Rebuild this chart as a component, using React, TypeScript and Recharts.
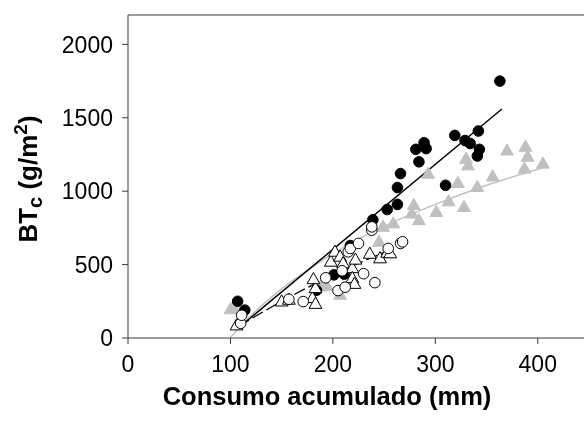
import React from 'react'
import { ComposedChart, Scatter, Line, XAxis, YAxis, ReferenceLine } from 'recharts'

// puntos: [consumo acumulado (mm), BTc (g/m2)]
const filledCircles = [
  [107, 250], [114, 190], [184, 325], [201, 430], [211, 435], [217, 630], [239, 805],
  [253, 875], [263, 910], [263, 1025], [266, 1120], [281, 1285], [284, 1200], [289, 1330],
  [291, 1290], [310, 1040], [319, 1380], [329, 1345], [334, 1325], [342, 1410], [343, 1285],
  [341, 1240], [363, 1750],
]
const grayTriangles = [
  [100, 195], [103, 205], [188, 350], [194, 355], [207, 294], [245, 655], [249, 757],
  [259, 780], [277, 847], [279, 905], [284, 802], [293, 1118], [301, 858], [313, 930],
  [322, 1055], [328, 892], [330, 1220], [332, 1175], [341, 1028], [356, 1099], [370, 1276],
  [388, 1302], [390, 1234], [387, 1153], [405, 1187],
]
const openCircles = [
  [110, 100], [111, 155], [157, 264], [171, 248], [193, 410], [205, 323], [209, 458],
  [212, 346], [215, 587], [217, 610], [225, 644], [230, 438], [238, 734], [238, 757],
  [241, 377], [254, 610], [266, 644], [268, 655],
]
const openTriangles = [
  [106, 85], [150, 248], [157, 260], [180, 271], [183, 232], [183, 339], [181, 400],
  [198, 519], [202, 587], [207, 553], [210, 508], [219, 475], [219, 407], [221, 368],
  [222, 533], [236, 573], [246, 542], [253, 580], [256, 576],
]
// curvas de ajuste
const blackFit = [[108, 70], [365, 1560]]
const dashedFit = [[108, 80], [150, 250], [200, 430], [256, 600]]
const grayFit = [
  [100, 5], [110, 80], [125, 185], [150, 335], [175, 460], [200, 575], [250, 760],
  [300, 910], [350, 1040], [405, 1160],
]
const xTicks = [0, 100, 200, 300, 400]
const yTicks = [0, 500, 1000, 1500, 2000]

const toRows = (pts: number[][]) => pts.map(([x, y]) => ({ x, y }))

const FONT = '"Liberation Sans", Arial, sans-serif'
const AXIS = '#3a3a3a'

const Dot = (p: any) => {
  if (p.cx == null) return null
  return <circle cx={p.cx} cy={p.cy} r={5.3} fill={p.fill} stroke={p.stroke} strokeWidth={1} />
}
const Tri = (p: any) => {
  if (p.cx == null) return null
  const { cx, cy } = p
  return (
    <polygon
      points={`${cx},${cy - 6.8} ${cx - 6.4},${cy + 4.4} ${cx + 6.4},${cy + 4.4}`}
      fill={p.fill}
      stroke={p.stroke}
      strokeWidth={1}
    />
  )
}

const XLabel = () => (
  <text x={319} y={397} textAnchor="middle" fontFamily={FONT} fontWeight="bold" fontSize={25.5} fill="#000">
    Consumo acumulado (mm)
  </text>
)
const YLabel = () => (
  <text
    x={0}
    y={0}
    transform="translate(29,171) rotate(-90)"
    textAnchor="middle"
    fontFamily={FONT}
    fontWeight="bold"
    fontSize={26}
    fill="#000"
  >
    BT<tspan fontSize={20} dy={5}>c</tspan>
    <tspan dy={-5}> (g/m</tspan>
    <tspan fontSize={19} dy={-10}>2</tspan>
    <tspan dy={10}>)</tspan>
  </text>
)

export default function App() {
  return (
    <div style={{ position: 'fixed', left: 8, top: 8, width: 576, height: 415, overflow: 'hidden' }}>
      <ComposedChart width={600} height={415} margin={{ top: 7, right: 19, left: 0, bottom: 0 }}>
        <XAxis
          type="number"
          dataKey="x"
          domain={[0, 450]}
          ticks={xTicks}
          height={85}
          stroke={AXIS}
          tickSize={6}
          tickMargin={12}
          tick={{ fill: '#000', fontSize: 23, fontFamily: FONT }}
          label={{ content: <XLabel /> }}
        />
        <YAxis
          type="number"
          dataKey="y"
          domain={[0, 2200]}
          ticks={yTicks}
          width={120}
          stroke={AXIS}
          tickSize={6}
          tickMargin={9}
          tick={{ fill: '#000', fontSize: 23, fontFamily: FONT }}
          label={{ content: <YLabel /> }}
        />
        <ReferenceLine y={2200} stroke={AXIS} strokeWidth={1} />
        <ReferenceLine x={450} stroke={AXIS} strokeWidth={1} />
        <Scatter data={toRows(grayTriangles)} fill="#c0c0c0" stroke="#c0c0c0" shape={Tri} isAnimationActive={false} />
        <Scatter data={toRows(filledCircles)} fill="#000" stroke="#000" shape={Dot} isAnimationActive={false} />
        <Scatter data={toRows(openTriangles)} fill="#fff" stroke="#000" shape={Tri} isAnimationActive={false} />
        <Scatter data={toRows(openCircles)} fill="#fff" stroke="#000" shape={Dot} isAnimationActive={false} />
        <Line data={toRows(grayFit)} dataKey="y" type="monotone" stroke="#c0c0c0" strokeWidth={1.5} dot={false} isAnimationActive={false} />
        <Line data={toRows(dashedFit)} dataKey="y" type="monotone" stroke="#000" strokeWidth={1.3} strokeDasharray="12 4" dot={false} isAnimationActive={false} />
        <Line data={toRows(blackFit)} dataKey="y" type="linear" stroke="#000" strokeWidth={1.5} dot={false} isAnimationActive={false} />
      </ComposedChart>
    </div>
  )
}
